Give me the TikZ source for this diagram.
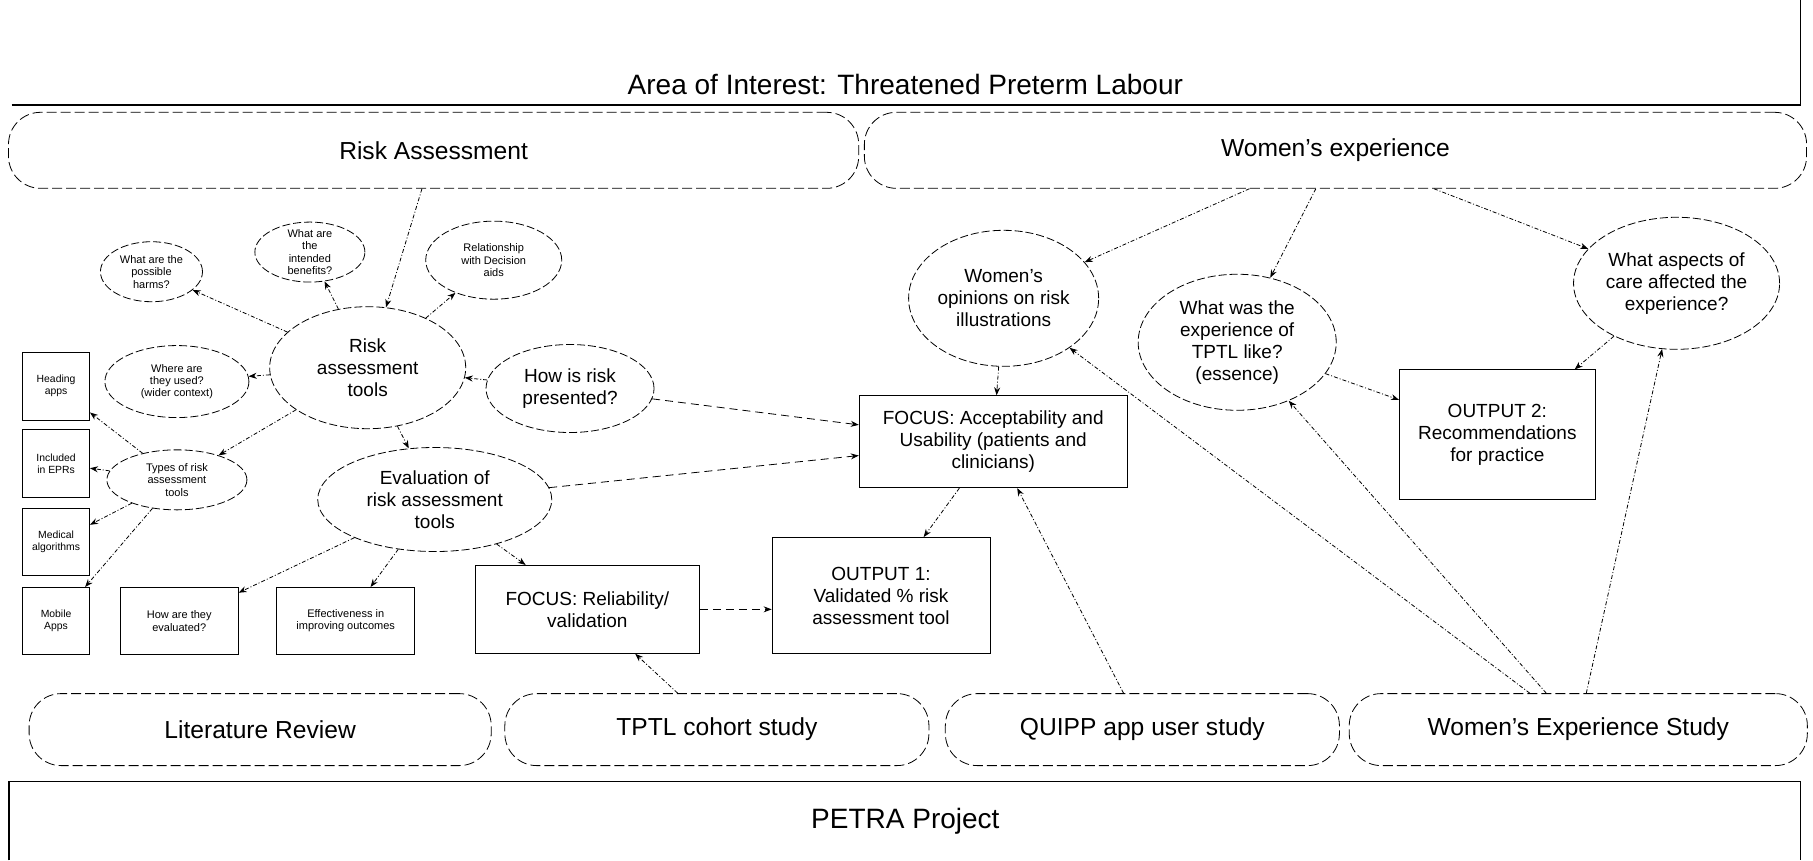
\documentclass[tikz,border=0pt]{standalone}
\usepackage{fontspec}
\setmainfont{Liberation Sans}
\usetikzlibrary{shapes.geometric, arrows.meta, positioning}
\tikzset{topic/.style={draw,dash pattern=on 5pt off 2pt,rounded corners=16pt,minimum height=38pt,font=\fontsize{12.3}{14}\selectfont},
         bubble/.style={draw,ellipse,dash pattern=on 4pt off 1.5pt,inner sep=0pt,align=center,font=\fontsize{9.5}{11}\selectfont},
         sbubble/.style={bubble,font=\fontsize{5.5}{6.2}\selectfont},
         qbox/.style={draw,rectangle,align=center,font=\fontsize{9.5}{11}\selectfont},
         sqbox/.style={qbox,inner sep=1pt,font=\fontsize{5.2}{6}\selectfont},
         link/.style={->,thin,dash pattern=on 2pt off 1pt on 0.5pt off 1pt},
         dlink/.style={->,thin,dash pattern=on 4pt off 2.5pt}}

\begin{document}
\begin{tikzpicture}[x=0.578pt,y=-0.578pt,>={Stealth[length=4pt,width=3pt]}]
    \useasboundingbox (0,0) rectangle (1568,744);

    \node[font=\fontsize{14}{17}\selectfont](aoi)at(783,73){Area of Interest: Threatened Preterm Labour};
    \draw[line width=0.8pt](10,91)-|(1557,0);
    \node[font=\fontsize{14}{17}\selectfont](petra)at(783,710){PETRA Project};
    \draw[line width=0.8pt](8,744)|-(1557,676)--(1557,744);

    \node[topic,minimum width=425pt](riskas)at(375,130){Risk Assessment};
    \node[topic,minimum width=471pt](womexp)at(1155,130){Women's experience};
    \node[topic,minimum width=231pt,minimum height=36pt](litrev)at(225,631){Literature Review};
    \node[topic,minimum width=212pt,minimum height=36pt](cohort)at(620,631){TPTL cohort study};
    \node[topic,minimum width=197pt,minimum height=36pt](quipp)at(988,631){QUIPP app user study};
    \node[topic,minimum width=229pt,minimum height=36pt](wes)at(1365,631){Women's Experience Study};

    \node[sbubble,minimum width=51pt,minimum height=30pt](harms)at(131,235){What are the\\possible\\harms?};
    \node[sbubble,minimum width=55pt,minimum height=30pt,inner sep=-2pt](benefit)at(268,218){What are\\the\\intended\\benefits?};
    \node[sbubble,minimum width=68pt,minimum height=39pt](decis)at(427,225){Relationship\\with Decision\\aids};
    \node[bubble,minimum width=98pt,minimum height=61pt](ratools)at(318,318){Risk\\assessment\\tools};
    \node[sbubble,minimum width=72pt,minimum height=36pt](where)at(153,330){Where are\\they used?\\(wider context)};
    \node[bubble,minimum width=84pt,minimum height=44pt](present)at(493,336){How is risk\\presented?};
    \node[sbubble,minimum width=70pt,minimum height=30pt](types)at(153,415){Types of risk\\assessment\\tools};
    \node[bubble,minimum width=117pt,minimum height=52pt](evalu)at(376,432){Evaluation of\\risk assessment\\tools};
    \node[bubble,minimum width=95pt,minimum height=68pt](opinion)at(868,258){Women's\\opinions on risk\\illustrations};
    \node[bubble,minimum width=99pt,minimum height=68pt](tptlexp)at(1070,296){What was the\\experience of\\TPTL like?\\(essence)};
    \node[bubble,minimum width=103pt,minimum height=66pt](aspects)at(1450,245){What aspects of\\care affected the\\experience?};

    \node[sqbox,minimum width=33.5pt,minimum height=34pt](heading)at(48.5,334){Heading\\apps};
    \node[sqbox,minimum width=33.5pt,minimum height=34pt](epr)at(48.5,401){Included\\in EPRs};
    \node[sqbox,minimum width=33.5pt,minimum height=33.5pt](algo)at(48.5,469){Medical\\algorithms};
    \node[sqbox,minimum width=33.5pt,minimum height=33.5pt](mobile)at(48.5,537){Mobile\\Apps};
    \node[sqbox,minimum width=59pt,minimum height=33.5pt,font=\fontsize{5.5}{6.2}\selectfont](howeval)at(155,537){How are they\\evaluated?};
    \node[sqbox,minimum width=69pt,minimum height=33.5pt,font=\fontsize{5.5}{6.2}\selectfont](effect)at(299,537){Effectiveness in\\improving outcomes};
    \node[qbox,minimum width=112pt,minimum height=44pt](focusrel)at(508,527){FOCUS: Reliability/\\validation};
    \node[qbox,minimum width=109pt,minimum height=58pt](outone)at(762,515){OUTPUT 1:\\Validated \% risk\\assessment tool};
    \node[qbox,minimum width=134pt,minimum height=46pt](focusacc)at(859,382){FOCUS: Acceptability and\\Usability (patients and\\clinicians)};
    \node[qbox,minimum width=98pt,minimum height=65pt](outtwo)at(1295,376){OUTPUT 2:\\Recommendations\\for practice};

    \draw[link](riskas)to(ratools);
    \draw[link](ratools)to(harms);
    \draw[link](ratools)to(benefit);
    \draw[link](ratools)to(decis);
    \draw[link](ratools)to(where);
    \draw[link](present)to(ratools);
    \draw[link](ratools)to(types);
    \draw[link](ratools)to(evalu);
    \draw[link](types)to(heading);
    \draw[link](types)to(epr);
    \draw[link](types)to(algo);
    \draw[link](types)to(mobile);
    \draw[link](evalu)to(howeval);
    \draw[link](evalu)to(effect);
    \draw[link](evalu)to(focusrel);
    \draw[dlink](evalu)to(focusacc);
    \draw[dlink](present)to(focusacc);
    \draw[dlink](focusrel.east)to(outone.west|-focusrel.east);
    \draw[link](focusacc)to(outone);
    \draw[link](opinion)to(focusacc);
    \draw[link](womexp)to(opinion);
    \draw[link](womexp)to(tptlexp);
    \draw[link](womexp)to(aspects);
    \draw[link](tptlexp)to(outtwo);
    \draw[link](aspects)to(outtwo);
    \draw[link](cohort)to(focusrel);
    \draw[link](quipp)to(focusacc);
    \draw[link](wes)to(opinion);
    \draw[link](wes)to(tptlexp);
    \draw[link](wes)to(aspects);
\end{tikzpicture}
\end{document}
